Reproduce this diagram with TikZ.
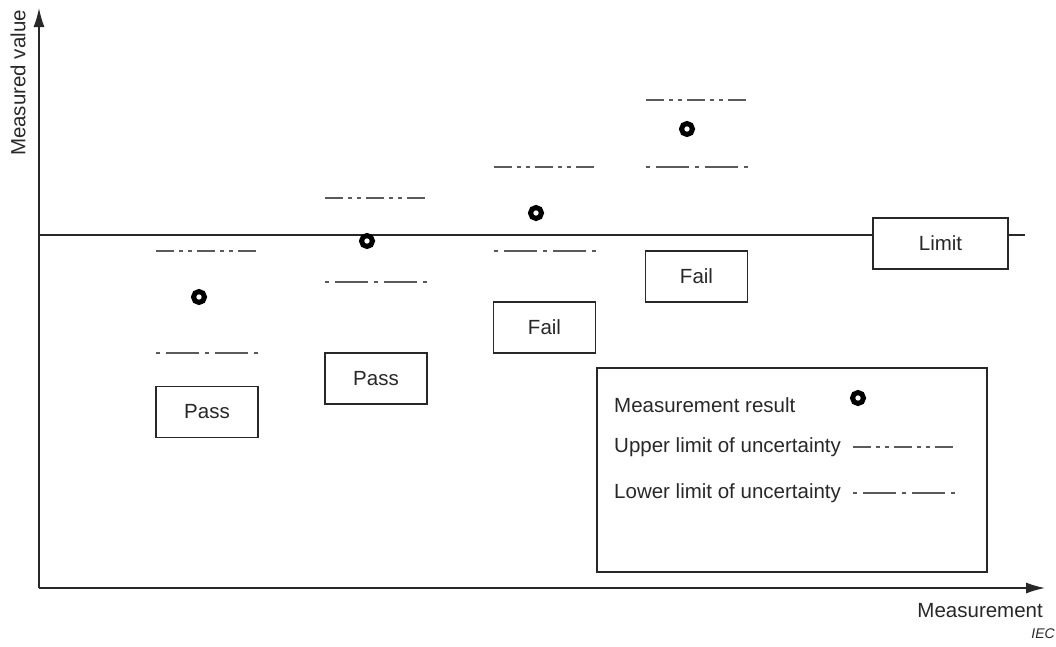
\documentclass[tikz,border=0pt]{standalone}
\usepackage{fontspec}
\setmainfont{Liberation Sans}
\usetikzlibrary{arrows.meta}
\definecolor{linegray}{RGB}{40,40,40}
\definecolor{dashgray}{RGB}{90,90,90}
\tikzset{
  verdict/.style={draw=linegray,line width=1.2pt,fill=white,minimum width=102pt,minimum height=51pt,inner sep=0pt,font=\fontsize{20.5}{24}\selectfont,text=linegray},
  legtext/.style={anchor=west,inner sep=0pt,font=\fontsize{20.5}{24}\selectfont,text=linegray},
  upperunc/.style={draw=dashgray,line width=1.8pt,dash pattern=on 18pt off 5pt on 4pt off 5pt on 4pt off 5pt},
  lowerunc/.style={draw=dashgray,line width=1.8pt,dash pattern=on 4pt off 6pt on 33pt off 6pt},
  result/.style={draw=black,line width=5pt,fill=white,circle,minimum size=11pt,inner sep=0pt}
}
\begin{document}
\begin{tikzpicture}[x=1pt,y=-1pt]
  \useasboundingbox (0,0) rectangle (1056,646);
  % axes
  \coordinate (orig) at (39,588);
  \coordinate (ytop) at (39,8);
  \coordinate (xend) at (1045,588);
  \draw[linegray,line width=1.5pt,-{Latex[length=19pt,width=11pt]}] (orig) -- (ytop);
  \draw[linegray,line width=1.5pt,-{Latex[length=19pt,width=11pt]}] (orig) -- (xend);
  \node[rotate=90,inner sep=0pt,font=\fontsize{20.5}{24}\selectfont,text=linegray] (ylab) at (18,83) {Measured value};
  \node[anchor=east,inner sep=0pt,font=\fontsize{20.5}{24}\selectfont,text=linegray] (xlab) at (1043,611) {Measurement};
  \node[anchor=east,inner sep=0pt,font=\fontsize{14}{16}\selectfont\itshape,text=linegray] (iec) at (1055,634) {IEC};
  % limit
  \coordinate (limA) at (39,235);
  \coordinate (limB) at (1025,235);
  \draw[linegray,line width=1.5pt] (limA) -- (limB);
  \node[verdict,minimum width=135pt] (limit) at (940.5,243.5) {Limit};
  % first pass
  \draw[upperunc] (156,251) -- (258,251);
  \draw[lowerunc] (156,353) -- (258,353);
  \node[result] (res1) at (199,297) {};
  \node[verdict] (pass1) at (207,412) {Pass};
  % second pass
  \draw[upperunc] (325,198) -- (427,198);
  \draw[lowerunc] (325,282) -- (427,282);
  \node[result] (res2) at (367,241) {};
  \node[verdict] (pass2) at (376,378.5) {Pass};
  % first fail
  \draw[upperunc] (494,167) -- (596,167);
  \draw[lowerunc] (494,251) -- (596,251);
  \node[result] (res3) at (536,213) {};
  \node[verdict] (fail1) at (544.5,327.5) {Fail};
  % second fail
  \draw[upperunc] (646,100) -- (748,100);
  \draw[lowerunc] (646,167) -- (748,167);
  \node[result] (res4) at (687,129) {};
  \node[verdict] (fail2) at (696.5,276.5) {Fail};
  % legend
  \node[draw=linegray,line width=1.5pt,minimum width=390pt,minimum height=204pt,inner sep=0pt] (legend) at (792,470) {};
  \node[legtext] (legres) at (614,405) {Measurement result};
  \node[result] (legdot) at (858,398) {};
  \node[legtext] (legup) at (614,447) {Upper limit of uncertainty};
  \draw[upperunc] (853,447) -- (955,447);
  \node[legtext] (leglow) at (614,493) {Lower limit of uncertainty};
  \draw[lowerunc] (853,493) -- (957,493);
\end{tikzpicture}
\end{document}
